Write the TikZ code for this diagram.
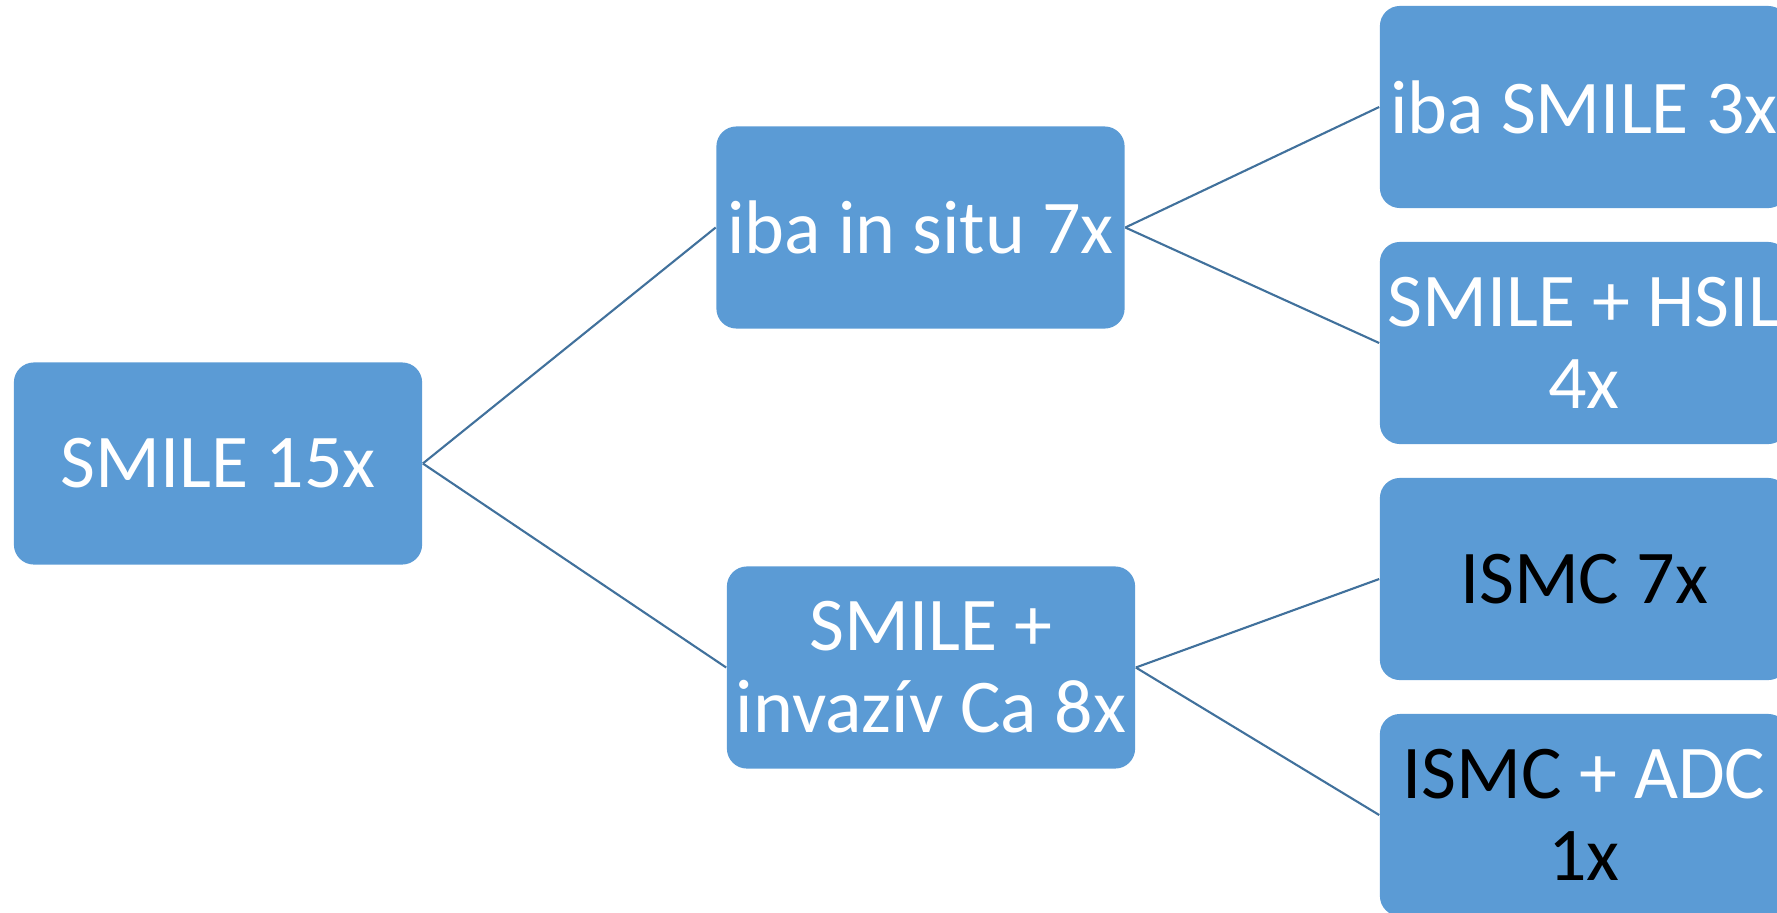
\documentclass[tikz,border=0pt]{standalone}
\usepackage{fontspec}
\setmainfont{Carlito}
\definecolor{boxblue}{HTML}{5B9BD5}
\definecolor{lineblue}{HTML}{41719C}

\begin{document}
\begin{tikzpicture}[x=0.01cm,y=-0.01cm]

      \useasboundingbox (0,0) rectangle (1777,912);

      \begin{scope}[every node/.style={fill=boxblue,rounded corners=0.2cm,minimum width=4.08cm,minimum height=2.02cm,inner sep=0pt,align=center,text=white,font=\fontsize{21.6}{23.3}\selectfont}]
        \node (1) at (218,463.5)   {SMILE 15x};
        \node (2) at (920.5,227.5) {iba in situ 7x};
        \node (3) at (931,667.5)   {SMILE +\\invazív Ca 8x};
        \node (4) at (1584,107)    {iba SMILE 3x};
        \node (5) at (1584,343)    {SMILE + HSIL\\4x};
        \node[text=black] (6) at (1584,579) {ISMC 7x};
        \node[text=black] (7) at (1584,815) {ISMC \textcolor{white}{+ ADC}\\1x};
      \end{scope}

      \begin{scope}[every edge/.style={draw=lineblue,line width=0.6pt}]
        \path (1.east) edge (2.west);
        \path (1.east) edge (3.west);
        \path (2.east) edge (4.west);
        \path (2.east) edge (5.west);
        \path (3.east) edge (6.west);
        \path (3.east) edge (7.west);
      \end{scope}

    \end{tikzpicture}
\end{document}
